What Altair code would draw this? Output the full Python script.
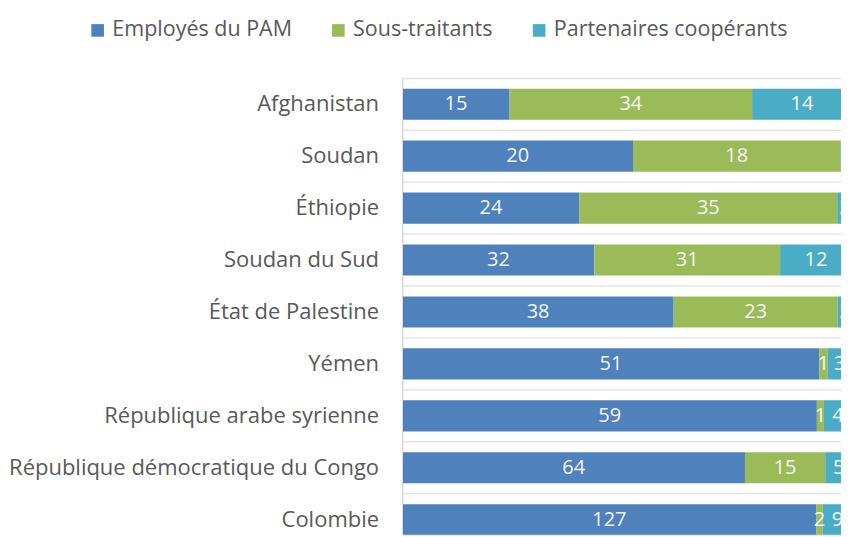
import altair as alt
import pandas as pd

countries = ["Afghanistan", "Soudan", "Éthiopie", "Soudan du Sud", "État de Palestine",
             "Yémen", "République arabe syrienne", "République démocratique du Congo", "Colombie"]
series = ["Employés du PAM", "Sous-traitants", "Partenaires coopérants"]
employes = [15, 20, 24, 32, 38, 51, 59, 64, 127]
sous_traitants = [34, 18, 35, 31, 23, 1, 1, 15, 2]
partenaires = [14, 1, 2, 12, 2, 3, 4, 5, 9]
colors = ["#4F81BD", "#9BBB59", "#4BACC6"]

rows = []
for i, c in enumerate(countries):
    for k, (s, vals) in enumerate(zip(series, [employes, sous_traitants, partenaires])):
        rows.append({"pays": c, "serie": s, "ordre": k, "valeur": vals[i]})
df = pd.DataFrame(rows)

PLOT_W = 439
PLOT_H = 457
FONT = "Open Sans"

yscale = alt.Scale(domain=countries, range=[0, 468], paddingInner=0.4, paddingOuter=0.2)
xscale = alt.Scale(domain=[0, 1], range=[0, 450])

base = alt.Chart(df)

bars = base.mark_bar(clip=True).encode(
    y=alt.Y("pays:N", sort=countries, scale=yscale,
            axis=alt.Axis(title=None, ticks=False, domain=False, grid=False,
                          labelPadding=24, labelFontSize=22, labelColor="#595959",
                          labelFont=FONT, labelLimit=600)),
    x=alt.X("valeur:Q", stack="normalize", scale=xscale, axis=None),
    color=alt.Color("serie:N", sort=series,
                    scale=alt.Scale(domain=series, range=colors),
                    legend=alt.Legend(title=None, orient="none", direction="horizontal",
                                      legendX=-316, legendY=-59, padding=0,
                                      symbolType="square", symbolSize=160,
                                      symbolStrokeWidth=0, labelFontSize=21.5,
                                      labelColor="#595959", labelFont=FONT,
                                      labelLimit=600, columnPadding=35, labelOffset=4)),
    order=alt.Order("ordre:Q"),
)

labels = base.transform_joinaggregate(
    total="sum(valeur)", groupby=["pays"]
).transform_window(
    cum="sum(valeur)", groupby=["pays"], sort=[alt.SortField("ordre")],
    frame=[None, 0]
).transform_calculate(
    mid="(datum.cum - datum.valeur / 2) / datum.total"
).mark_text(clip=True, color="#f4f4f4", fontSize=20, font=FONT).encode(
    y=alt.Y("pays:N", sort=countries, scale=yscale),
    x=alt.X("mid:Q", scale=xscale),
    text=alt.Text("valeur:Q"),
)

seps = alt.Chart(pd.DataFrame({"pays": countries})).mark_rule(
    clip=True, color="#d9d9d9", strokeWidth=1, yOffset=-10.4
).encode(
    y=alt.Y("pays:N", sort=countries, scale=yscale, bandPosition=0),
    x=alt.value(0),
    x2=alt.value(PLOT_W),
)

axisline = alt.Chart(pd.DataFrame({"a": [0]})).mark_rule(
    color="#d9d9d9", strokeWidth=1
).encode(
    x=alt.value(0),
    y=alt.value(0),
    y2=alt.value(PLOT_H),
)

chart = alt.layer(seps, bars, labels, axisline).properties(
    width=PLOT_W, height=PLOT_H,
    padding={"left": 0, "top": 11, "right": 0, "bottom": 0},
).configure_view(stroke=None).configure(font=FONT)

chart.save("out.html", embed_options={"renderer": "svg", "actions": False})
